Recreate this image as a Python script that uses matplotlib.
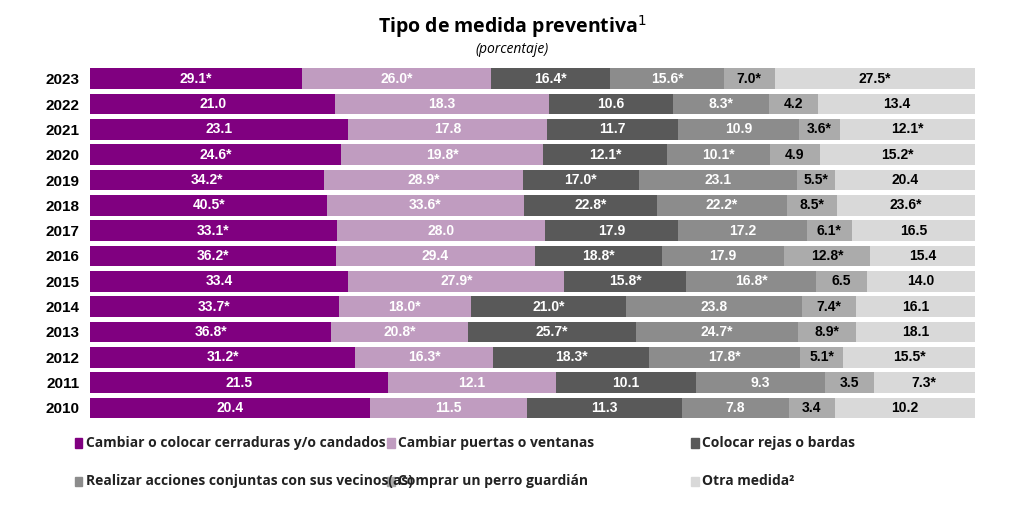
import numpy as np
import matplotlib.pyplot as plt
from matplotlib.patches import Rectangle

years = ['2023', '2022', '2021', '2020', '2019', '2018', '2017', '2016',
         '2015', '2014', '2013', '2012', '2011', '2010']
cerraduras = [29.1, 21.0, 23.1, 24.6, 34.2, 40.5, 33.1, 36.2, 33.4, 33.7, 36.8, 31.2, 21.5, 20.4]
puertas    = [26.0, 18.3, 17.8, 19.8, 28.9, 33.6, 28.0, 29.4, 27.9, 18.0, 20.8, 16.3, 12.1, 11.5]
rejas      = [16.4, 10.6, 11.7, 12.1, 17.0, 22.8, 17.9, 18.8, 15.8, 21.0, 25.7, 18.3, 10.1, 11.3]
vecinos    = [15.6, 8.3, 10.9, 10.1, 23.1, 22.2, 17.2, 17.9, 16.8, 23.8, 24.7, 17.8, 9.3, 7.8]
perro      = [7.0, 4.2, 3.6, 4.9, 5.5, 8.5, 6.1, 12.8, 6.5, 7.4, 8.9, 5.1, 3.5, 3.4]
otra       = [27.5, 13.4, 12.1, 15.2, 20.4, 23.6, 16.5, 15.4, 14.0, 16.1, 18.1, 15.5, 7.3, 10.2]
# significance marks (*) per series
star = [
    [1, 0, 0, 1, 1, 1, 1, 1, 0, 1, 1, 1, 0, 0],
    [1, 0, 0, 1, 1, 1, 0, 0, 1, 1, 1, 1, 0, 0],
    [1, 0, 0, 1, 1, 1, 0, 1, 1, 1, 1, 1, 0, 0],
    [1, 1, 0, 1, 0, 1, 0, 0, 1, 0, 1, 1, 0, 0],
    [1, 0, 1, 0, 1, 1, 1, 1, 0, 1, 1, 1, 0, 0],
    [1, 0, 1, 1, 0, 1, 0, 0, 0, 0, 0, 1, 1, 0],
]
labels = ['Cambiar o colocar cerraduras y/o candados', 'Cambiar puertas o ventanas',
          'Colocar rejas o bardas', 'Realizar acciones conjuntas con sus vecinos(as)',
          'Comprar un perro guardián', 'Otra medida²']
colors = ['#800080', '#C09CC0', '#595959', '#8C8C8C', '#ABABAB', '#D9D9D9']
txt_colors = ['white', 'white', 'white', 'white', 'black', 'black']

series = np.array([cerraduras, puertas, rejas, vecinos, perro, otra])
shares = series / series.sum(axis=0)

fig = plt.figure(figsize=(10.24, 5.08), dpi=100)
ax = fig.add_axes([0.088, 0.172, 0.864, 0.698])
y = np.arange(len(years))
left = np.zeros(len(years))
for k in range(6):
    ax.barh(y, shares[k], left=left, height=0.82, color=colors[k])
    for i in range(len(years)):
        s = f'{series[k, i]:.1f}' + ('*' if star[k][i] else '')
        ax.text(left[i] + shares[k, i] / 2, y[i], s, ha='center', va='center',
                color=txt_colors[k], fontsize=10, fontweight='bold',
                family='Liberation Sans')
    left += shares[k]

ax.set_xlim(0, 1)
ax.set_ylim(len(years) - 0.5, -0.5)
ax.set_yticks(y)
ax.set_yticklabels(years, fontsize=11, fontweight='bold', family='Liberation Sans')
ax.tick_params(left=False, bottom=False, labelbottom=False, pad=4)
for sp in ax.spines.values():
    sp.set_visible(False)

fig.text(0.5, 0.935, 'Tipo de medida preventiva$^1$', ha='center', fontsize=14,
         fontweight='bold', family='Open Sans')
fig.text(0.5, 0.895, '(porcentaje)', ha='center', fontsize=10, style='italic',
         family='Open Sans')

leg_x = [0.073, 0.378, 0.675]
leg_y = [0.128, 0.053]
for k, lab in enumerate(labels):
    xx, yy = leg_x[k % 3], leg_y[k // 3]
    fig.patches.append(Rectangle((xx, yy - 0.009), 0.0075, 0.018,
                                 transform=fig.transFigure, color=colors[k]))
    fig.text(xx + 0.011, yy, lab, va='center', fontsize=10, fontweight='bold',
             family='Open Sans', color='#222222')

fig.savefig('out.png', dpi=100)
